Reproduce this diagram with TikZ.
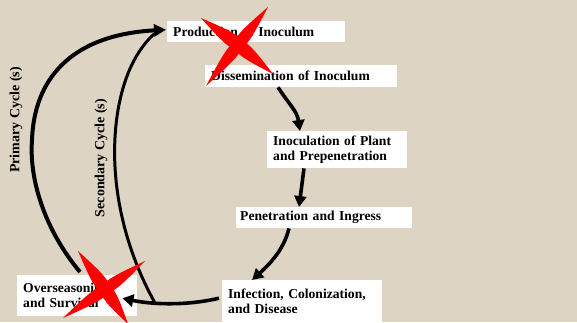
\documentclass[tikz,border=0pt]{standalone}
\usepackage{fontspec}
\setmainfont{Liberation Serif}
\usetikzlibrary{arrows.meta,calc}
\definecolor{bg}{RGB}{222,212,196}
\definecolor{xred}{RGB}{255,0,0}
\begin{document}
\begin{tikzpicture}[x=1pt,y=-1pt,
  box/.style={fill=white, anchor=north west, inner xsep=6pt, inner ysep=0pt, align=left,
    font=\fontsize{13.6}{15}\selectfont\bfseries},
  flow/.style={line width=3.6pt, -{Triangle[length=11pt,width=12pt]}},
  cycarc/.style={line width=3pt},
  cyclab/.style={font=\fontsize{14}{15}\selectfont\bfseries, rotate=90, inner sep=0pt},
  redx/.style={fill=xred}]
\fill[bg] (0,0) rectangle (577,322);
\useasboundingbox (0,0) rectangle (577,322);

\node[box, text width=166pt, minimum height=21pt] (prod) at (167,21) {Production of Inoculum};
\node[box, text width=180pt, minimum height=22pt] (diss) at (205,65) {Dissemination of Inoculum};
\node[box, text width=128pt, minimum height=37pt] (inoc) at (267,131) {Inoculation of Plant\\and Prepenetration};
\node[box, text width=168pt, minimum height=21pt, inner xsep=4pt] (pen) at (236,207) {Penetration and Ingress};
\node[box, text width=148pt, minimum height=42pt] (inf) at (222,280) {Infection, Colonization,\\and Disease};
\node[box, text width=108pt, minimum height=41pt] (over) at (17,275) {Overseasoning\\and Survival};

\coordinate (sj) at (155,303);
\coordinate (sk) at ($(prod.west)+(-9,-1)$);

\draw[flow] ($(diss.south west)+(73,0)$) .. controls +(12,18) and +(-3,-20) .. ($(inoc.north west)+(33,0)$);
\draw[flow] ($(inoc.south west)+(37,0)$) -- ($(pen.north west)+(63,0)$);
\draw[flow] ($(pen.south west)+(53,0)$) .. controls +(-5,20) and +(20,-18) .. ($(inf.north west)+(30,0)$);
\draw[flow] ($(inf.west)+(-3,-3)$) .. controls +(-34,8) and +(28,6) .. ($(over.east)+(-15,2.5)$);

\draw[line width=4pt, -{Triangle[length=12pt,width=12pt]}]
  ($(over.north west)+(63,-3)$) .. controls (45,230) and (29,180) .. (32,140)
  .. controls (34,80) and (70,35) .. ($(prod.west)+(-1,-2)$);
\draw[cycarc] (sj) .. controls (120,240) and (108,170) .. (118,110)
  .. controls (125,70) and (140,45) .. (sk);

\node[cyclab] (plab) at (16,120) {Primary Cycle (s)};
\node[cyclab] (slab) at (101,158) {Secondary Cycle (s)};

\fill[redx] (201,18) .. controls (239.75,61.25) .. (268,7) .. controls (221.75,47.25) .. (273,74)
  .. controls (237.25,27.5) .. (206,86) .. controls (255.25,41.5) .. (201,18) -- cycle;
\fill[redx] (78,251) .. controls (101.75,305.5) .. (145,261) .. controls (89.25,287.25) .. (128,324)
  .. controls (109.75,273) .. (63,318) .. controls (122.25,291.25) .. (78,251) -- cycle;
\end{tikzpicture}
\end{document}
